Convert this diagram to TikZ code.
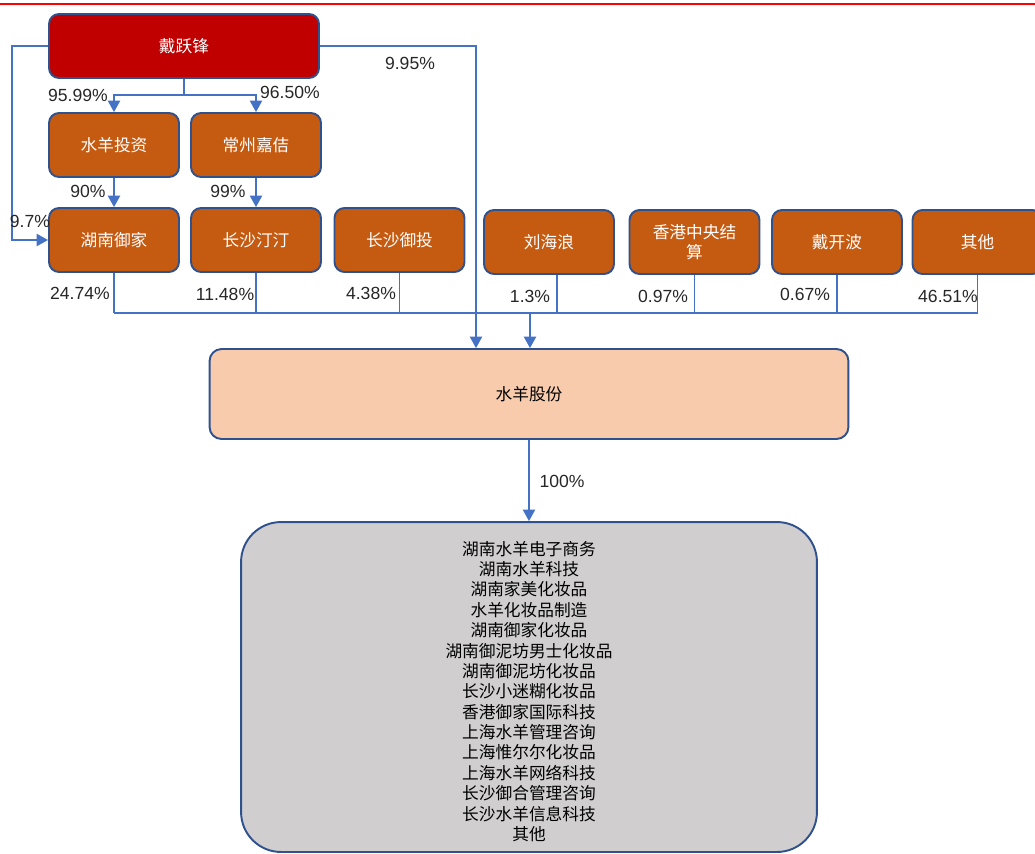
\documentclass[tikz,border=0pt]{standalone}
\usepackage[rgb]{xcolor}
\usepackage{fontspec}
\setmainfont{Liberation Sans}
\newfontfamily\cjk{Noto Sans CJK SC}
\usepackage{tikz}
\usetikzlibrary{arrows.meta}

\definecolor{ownerred}{HTML}{C00000}
\definecolor{holdorange}{HTML}{C55A11}
\definecolor{mainpeach}{HTML}{F8CBAD}
\definecolor{subgray}{HTML}{D0CECE}
\definecolor{frameblue}{HTML}{2F528F}
\definecolor{linkblue}{HTML}{4472C4}

\tikzset{
  holder/.style={draw=frameblue, line width=1.1pt, rounded corners=0.2cm,
    fill=holdorange, text=white, align=center,
    minimum width=2.6cm, minimum height=1.28cm,
    font=\cjk\fontsize{9.5}{11.6}\selectfont},
  link/.style={draw=linkblue, line width=0.75pt},
  tip/.style={-{Triangle[width=7pt,length=6.5pt]}},
  pct/.style={font=\fontsize{10}{12}\selectfont, text=black!85, inner sep=0pt}
}

\begin{document}
\begin{tikzpicture}[x=0.02cm, y=-0.02cm]

\useasboundingbox (0,0) rectangle (1035,853);

% page rule at the top
\draw[red, line width=0.6pt] (0,4) -- (1035,4);

% owner and the holding companies
\node[holder, fill=ownerred, minimum width=5.4cm] (dyf) at (184,46) {戴跃锋};
\node[holder] (sytz) at (114,145) {水羊投资};
\node[holder] (czjj) at (256,145) {常州嘉佶};

\node[holder] (hnyj) at (114,240) {湖南御家};
\node[holder] (cstt) at (256,240) {长沙汀汀};
\node[holder] (csyt) at (399.5,240) {长沙御投};
\node[holder] (lhl)  at (549,242) {刘海浪};
\node[holder] (hkcc) at (694.5,242) {香港中央结\\算};
\node[holder] (dkb)  at (837,242) {戴开波};
\node[holder] (qt)   at (977.5,242) {其他};

% the listed company and its subsidiaries
\node[holder, fill=mainpeach, text=black, minimum width=12.78cm,
  minimum height=1.8cm, rounded corners=0.24cm] (sygf) at (529,394) {水羊股份};
\node[holder, fill=subgray, text=black, minimum width=11.52cm,
  minimum height=6.6cm, rounded corners=0.8cm] (subs) at (529,687)
{\rule{0pt}{13pt}湖南水羊电子商务\\湖南水羊科技\\湖南家美化妆品\\水羊化妆品制造\\
湖南御家化妆品\\湖南御泥坊男士化妆品\\湖南御泥坊化妆品\\长沙小迷糊化妆品\\
香港御家国际科技\\上海水羊管理咨询\\上海惟尔尔化妆品\\上海水羊网络科技\\
长沙御合管理咨询\\长沙水羊信息科技\\其他};

% helper points
\coordinate (split) at (184,95);
\coordinate (lrail) at (12,46);
\coordinate (rrail) at (476,46);
\coordinate (busl) at (114,313);
\coordinate (busr) at (978,313);
\coordinate (busin) at (530,313);

\draw[link] (dyf.south) -- (split);
\draw[link, tip] (split) -| (sytz.north);
\draw[link, tip] (split) -| (czjj.north);
\draw[link, tip] (sytz.south) -- (hnyj.north);
\draw[link, tip] (czjj.south) -- (cstt.north);
\draw[link, tip] (dyf.west) -- (lrail) |- (hnyj.west);
\draw[link, tip] (dyf.east) -- (rrail) -- (rrail |- sygf.north);

% shareholders into the bus
\draw[link] (busl) -- (busr);
\foreach \n in {hnyj, cstt, csyt, hkcc, dkb, qt}
  \draw[link] (\n.south) -- (\n.south |- busl);
\draw[link] ([xshift=0.16cm]lhl.south) -- ([xshift=0.16cm]lhl.south |- busl);
\draw[link, tip] (busin) -- (busin |- sygf.north);
\draw[link, tip] (sygf.south) -- (subs.north);

% shares
\node[pct] (p1) at (78,95) {95.99\%};
\node[pct] (p2) at (290,92) {96.50\%};
\node[pct] (p3) at (88,191) {90\%};
\node[pct] (p4) at (228,191) {99\%};
\node[pct] (p5) at (30,221) {9.7\%};
\node[pct] (p6) at (410,63) {9.95\%};
\node[pct] (p7) at (80,293) {24.74\%};
\node[pct] (p8) at (225,294) {11.48\%};
\node[pct] (p9) at (371,293) {4.38\%};
\node[pct] (p10) at (530,296) {1.3\%};
\node[pct] (p11) at (663,296) {0.97\%};
\node[pct] (p12) at (805,294) {0.67\%};
\node[pct] (p13) at (948,296) {46.51\%};
\node[pct] (p14) at (562,481) {100\%};

\end{tikzpicture}
\end{document}
